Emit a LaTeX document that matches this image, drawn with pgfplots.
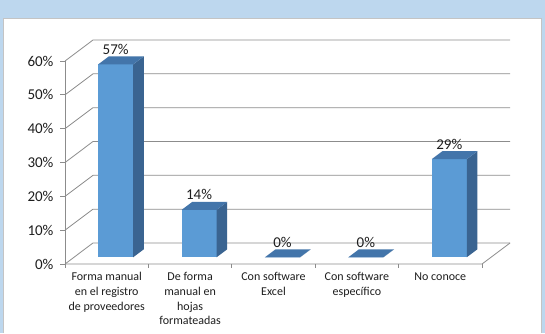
\documentclass[border=0pt]{standalone}
\usepackage{pgfplots}
\pgfplotsset{compat=1.18}
\usepackage{fontspec}
\setmainfont{Carlito}

\definecolor{bgblue}{HTML}{BDD7EE}
\definecolor{panelborder}{HTML}{C4C4C4}
\definecolor{gridc}{HTML}{8C8C8C}
\definecolor{barfront}{HTML}{5B9BD5}
\definecolor{bartop}{HTML}{4375AA}
\definecolor{barside}{HTML}{3A6491}
\definecolor{labeltext}{HTML}{1E1E1E}

% One 3-D column: #1 = category position, #2 = value in percent.
% The depth of the floor is 0.3357 x-units by 0.0621 y-units; the column
% occupies the slice of that depth between 32% and 70%.
\newcommand\cuboid[2]{%
  \pgfmathsetmacro\cbV{#2/100}%
  \pgfmathsetmacro\cbXa{#1-0.1026}%
  \pgfmathsetmacro\cbXb{#1+0.3174}%
  \pgfmathsetmacro\cbXc{#1+0.0250}%
  \pgfmathsetmacro\cbXd{#1+0.4450}%
  \pgfmathsetmacro\cbXm{#1+0.1074}%
  \pgfmathsetmacro\cbTa{\cbV+0.0199}%
  \pgfmathsetmacro\cbTb{\cbV+0.0435}%
  \addplot[draw=none, fill=barfront] coordinates
    {(\cbXa,0.0199) (\cbXb,0.0199) (\cbXb,\cbTa) (\cbXa,\cbTa)};
  \addplot[draw=none, fill=barside] coordinates
    {(\cbXb,0.0199) (\cbXd,0.0435) (\cbXd,\cbTb) (\cbXb,\cbTa)};
  \addplot[draw=none, fill=bartop] coordinates
    {(\cbXa,\cbTa) (\cbXb,\cbTa) (\cbXd,\cbTb) (\cbXc,\cbTb)};
  \addplot[draw=none, nodes near coords, point meta=explicit symbolic,
    nodes near coords style={anchor=center, yshift=15pt, text=labeltext,
      font=\fontsize{15}{18}\selectfont}]
    coordinates {(\cbXm,\cbTa) [#2\%]};
}

\begin{document}
\begin{tikzpicture}
% background and chart panel
\path[use as bounding box, fill=bgblue] (0pt,0pt) rectangle (545pt,333pt);
\fill[white] (3pt,0pt) rectangle (541pt,315pt);
\draw[panelborder, line width=0.8pt] (3pt,0pt) -- (3pt,315pt) -- (541pt,315pt) -- (541pt,0pt);

\begin{axis}[
  at={(65pt,69pt)}, anchor=south west,
  scale only axis, width=445pt, height=224pt,
  xmin=-0.5, xmax=4.8357, ymin=0, ymax=0.6621,
  clip=false,
  axis x line*=bottom, axis y line*=left,
  axis line style={draw=none},
  tick align=outside, major tick length=5pt,
  xtick={0,1,2,3,4},
  xticklabels={{Forma manual\\en el registro\\de proveedores},
               {De forma\\manual en\\hojas\\formateadas},
               {Con software\\Excel},
               {Con software\\específico},
               {No conoce}},
  xtick style={draw=none},
  xticklabel style={align=center, text=labeltext,
    font=\fontsize{12}{14.7}\selectfont},
  ytick={0,0.1,0.2,0.3,0.4,0.5,0.6},
  yticklabels={0\%,10\%,20\%,30\%,40\%,50\%,60\%},
  ytick style={draw=gridc, line width=0.8pt},
  yticklabel style={text=labeltext, font=\fontsize{15}{18}\selectfont, xshift=-3pt},
]
% side wall, back wall and floor
\draw[gridc, line width=0.8pt] (-0.5,0) -- (-0.5,0.6);
\draw[gridc, line width=0.8pt] (-0.5,0) -- (4.5,0) -- (4.8357,0.0621);
\draw[gridc, line width=0.8pt] (-0.5,0.0) -- (-0.1643,0.0621) -- (4.8357,0.0621);
\draw[gridc, line width=0.8pt] (-0.5,0.1) -- (-0.1643,0.1621) -- (4.8357,0.1621);
\draw[gridc, line width=0.8pt] (-0.5,0.2) -- (-0.1643,0.2621) -- (4.8357,0.2621);
\draw[gridc, line width=0.8pt] (-0.5,0.3) -- (-0.1643,0.3621) -- (4.8357,0.3621);
\draw[gridc, line width=0.8pt] (-0.5,0.4) -- (-0.1643,0.4621) -- (4.8357,0.4621);
\draw[gridc, line width=0.8pt] (-0.5,0.5) -- (-0.1643,0.5621) -- (4.8357,0.5621);
\draw[gridc, line width=0.8pt] (-0.5,0.6) -- (-0.1643,0.6621) -- (4.8357,0.6621);
% category separators below the floor
\draw[gridc, line width=0.8pt] (-0.5,0) -- ++(0pt,-4pt);
\draw[gridc, line width=0.8pt] (0.5,0) -- ++(0pt,-4pt);
\draw[gridc, line width=0.8pt] (1.5,0) -- ++(0pt,-4pt);
\draw[gridc, line width=0.8pt] (2.5,0) -- ++(0pt,-4pt);
\draw[gridc, line width=0.8pt] (3.5,0) -- ++(0pt,-4pt);
\draw[gridc, line width=0.8pt] (4.5,0) -- ++(0pt,-4pt);

% columns
\cuboid{0}{57}
\cuboid{1}{14}
\cuboid{2}{0}
\cuboid{3}{0}
\cuboid{4}{29}
\end{axis}
\end{tikzpicture}
\end{document}
